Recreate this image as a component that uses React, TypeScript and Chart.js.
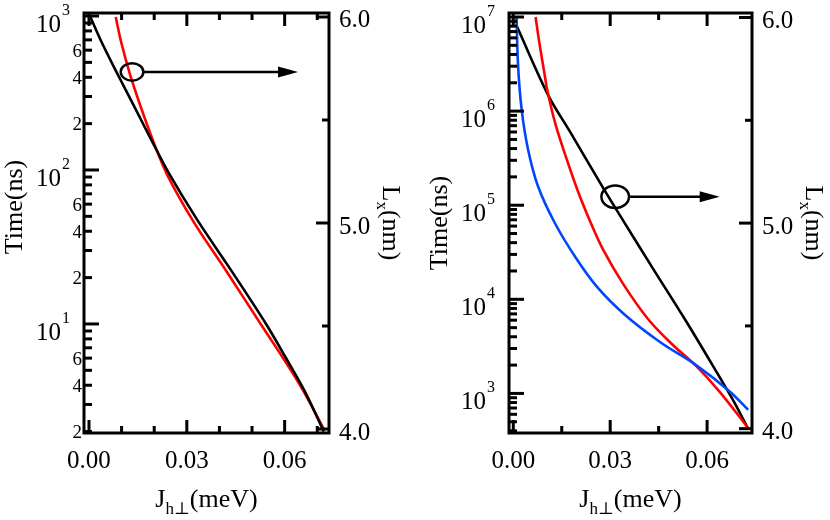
import React, { useEffect, useRef } from 'react';
import { Chart, registerables } from 'chart.js';
Chart.register(...registerables);

const FONT = "'Liberation Serif', 'Times New Roman', 'DejaVu Serif', serif";

// ---------- Left panel data ----------
const leftBlackX = [0.0003, 0.0037, 0.0089, 0.0141, 0.0193, 0.0248, 0.0334, 0.0439, 0.0543, 0.0604, 0.0663, 0.072];
const leftBlackTime = [1000, 688, 414, 253, 154, 92.9, 46.7, 21.8, 10.0, 6.01, 3.61, 2.0];
const leftRedX = [0.0082, 0.0098, 0.0126, 0.016, 0.0197, 0.024, 0.032, 0.0423, 0.0528, 0.0595, 0.0656, 0.072];
const leftRedLx = [6.0, 5.882, 5.72, 5.558, 5.397, 5.234, 5.008, 4.762, 4.506, 4.345, 4.189, 4.0];

// ---------- Right panel data ----------
const rightBlackX = [0.0009, 0.0107, 0.0175, 0.0278, 0.0345, 0.0432, 0.0536, 0.0639, 0.068, 0.0727];
const rightBlackLx = [5.965, 5.625, 5.446, 5.171, 5.0, 4.78, 4.52, 4.25, 4.14, 4.0];
const rightRedX = [0.0069, 0.008, 0.0097, 0.0107, 0.0131, 0.0164, 0.02, 0.0242, 0.0278, 0.034, 0.0417, 0.049, 0.0565, 0.0639, 0.0727];
const rightRedTime = [1e7, 5.52e6, 2.44e6, 1.56e6, 7.2e5, 3.18e5, 1.41e5, 6.24e4, 3.37e4, 1.46e4, 6.18e3, 3.37e3, 1.97e3, 1.04e3, 429];
const rightBlueX = [0.001, 0.0015, 0.0026, 0.0046, 0.0077, 0.0129, 0.0194, 0.0262, 0.0346, 0.0454, 0.0566, 0.067, 0.0727];
const rightBlueTime = [1e7, 2.96e6, 1.03e6, 3.86e5, 1.57e5, 6.43e4, 2.75e4, 1.32e4, 6.81e3, 3.52e3, 2.0e3, 1.05e3, 671];

// ---------- Ticks ----------
const leftXTicks = [0, 0.01, 0.02, 0.03, 0.04, 0.05, 0.06, 0.07];
const rightXTicks = [0, 0.015, 0.03, 0.045, 0.06];
const xMajorTicks = [0, 0.03, 0.06];
const xTickLabels = ['0.00', '0.03', '0.06'];
const lxTicks = [4.0, 4.5, 5.0, 5.5, 6.0];
const lxMajorTicks = [4.0, 5.0, 6.0];
const lxTickLabels = ['4.0', '5.0', '6.0'];
const leftMinorLabelDigits = [2, 4, 6];

type Series = { x: number[]; y: number[]; color: string; axis: 'y' | 'y2' };
type PanelCfg = {
  xMin: number; xMax: number;
  yMin: number; yMax: number;
  y2Min: number; y2Max: number;
  leftW: number; rightW: number;
  xTicks: number[];
  minorLabels: boolean;
  series: Series[];
  ann: { x: number; t: number; rx: number; ry: number; tipX: number };
  timeCY: number;
};

const leftCfg: PanelCfg = {
  xMin: -0.00153, xMax: 0.0736,
  yMin: 1.958, yMax: 1046,
  y2Min: 3.9806, y2Max: 6.0194,
  leftW: 84, rightW: 86,
  xTicks: leftXTicks,
  minorLabels: true,
  series: [
    { x: leftBlackX, y: leftBlackTime, color: '#000000', axis: 'y' },
    { x: leftRedX, y: leftRedLx, color: '#ff0000', axis: 'y2' },
  ],
  ann: { x: 0.0132, t: 433, rx: 11.3, ry: 8.7, tipX: 0.0641 },
  timeCY: 207,
};

const rightCfg: PanelCfg = {
  xMin: -0.00133, xMax: 0.0739,
  yMin: 379.6, yMax: 1.103e7,
  y2Min: 3.979, y2Max: 6.022,
  leftW: 94, rightW: 78,
  xTicks: rightXTicks,
  minorLabels: false,
  series: [
    { x: rightBlueX, y: rightBlueTime, color: '#0046ff', axis: 'y' },
    { x: rightRedX, y: rightRedTime, color: '#ff0000', axis: 'y' },
    { x: rightBlackX, y: rightBlackLx, color: '#000000', axis: 'y2' },
  ],
  ann: { x: 0.03155, t: 1.23e5, rx: 13.8, ry: 11.3, tipX: 0.0639 },
  timeCY: 223,
};

type Seg = { t: string; size: number; dy: number };

function richWidth(ctx: CanvasRenderingContext2D, segs: Seg[]) {
  let w = 0;
  for (const s of segs) {
    ctx.font = `${s.size}px ${FONT}`;
    w += ctx.measureText(s.t).width;
  }
  return w;
}
function drawRich(ctx: CanvasRenderingContext2D, segs: Seg[], x: number, y: number) {
  let cx = x;
  ctx.textAlign = 'left';
  ctx.textBaseline = 'alphabetic';
  for (const s of segs) {
    ctx.font = `${s.size}px ${FONT}`;
    ctx.fillText(s.t, cx, y + s.dy);
    cx += ctx.measureText(s.t).width;
  }
}

function makePlugin(cfg: PanelCfg) {
  return {
    id: 'customAxes',
    afterDraw(chart: any) {
      const ctx: CanvasRenderingContext2D = chart.ctx;
      const { left, right, top, bottom } = chart.chartArea;
      const xs = chart.scales.x;
      const ys = chart.scales.y;
      const y2 = chart.scales.y2;
      ctx.save();
      ctx.strokeStyle = '#000';
      ctx.fillStyle = '#000';
      ctx.lineCap = 'butt';

      // annotation: ellipse + arrow
      {
        const cx = xs.getPixelForValue(cfg.ann.x);
        const cy = ys.getPixelForValue(cfg.ann.t);
        const tip = xs.getPixelForValue(cfg.ann.tipX);
        ctx.lineWidth = 2.5;
        ctx.beginPath();
        ctx.ellipse(cx, cy, cfg.ann.rx, cfg.ann.ry, 0, 0, Math.PI * 2);
        ctx.stroke();
        ctx.beginPath();
        ctx.moveTo(cx + cfg.ann.rx, cy);
        ctx.lineTo(tip - 18, cy);
        ctx.stroke();
        ctx.beginPath();
        ctx.moveTo(tip, cy);
        ctx.lineTo(tip - 20, cy - 5.5);
        ctx.lineTo(tip - 20, cy + 5.5);
        ctx.closePath();
        ctx.fill();
      }

      // frame
      ctx.lineWidth = 3;
      ctx.strokeRect(left, top, right - left, bottom - top);

      // x ticks (bottom and top)
      for (const v of cfg.xTicks) {
        const px = xs.getPixelForValue(v);
        const major = xMajorTicks.some((m) => Math.abs(m - v) < 1e-9);
        const len = major ? 13 : 7;
        ctx.beginPath();
        ctx.moveTo(px, bottom);
        ctx.lineTo(px, bottom - len);
        ctx.moveTo(px, top);
        ctx.lineTo(px, top + len);
        ctx.stroke();
      }
      // x labels
      ctx.font = `25px ${FONT}`;
      ctx.textAlign = 'center';
      ctx.textBaseline = 'alphabetic';
      xMajorTicks.forEach((v, i) => {
        ctx.fillText(xTickLabels[i], xs.getPixelForValue(v), bottom + 35);
      });

      // log ticks on left axis
      const e0 = Math.floor(Math.log10(cfg.yMin));
      const e1 = Math.ceil(Math.log10(cfg.yMax));
      for (let e = e0; e <= e1; e++) {
        for (let k = 1; k <= 9; k++) {
          const v = k * Math.pow(10, e);
          if (v < cfg.yMin || v > cfg.yMax) continue;
          const py = ys.getPixelForValue(v);
          ctx.lineWidth = 3;
          ctx.beginPath();
          ctx.moveTo(left, py);
          ctx.lineTo(left + (k === 1 ? 15 : 8), py);
          ctx.stroke();
          if (k === 1) {
            ctx.textAlign = 'right';
            ctx.font = `16px ${FONT}`;
            const sup = String(e);
            const sw = ctx.measureText(sup).width;
            ctx.fillText(sup, left - 14, py - 1);
            ctx.font = `25px ${FONT}`;
            ctx.fillText('10', left - 14 - sw - 1, py + 16);
          } else if (cfg.minorLabels && leftMinorLabelDigits.includes(k)) {
            ctx.textAlign = 'right';
            ctx.font = `19px ${FONT}`;
            ctx.fillText(String(k), left - 2, py + 6.5);
          }
        }
      }

      // right linear axis ticks
      for (const v of lxTicks) {
        const py = y2.getPixelForValue(v);
        const major = lxMajorTicks.includes(v);
        ctx.lineWidth = 3;
        ctx.beginPath();
        ctx.moveTo(right, py);
        ctx.lineTo(right - (major ? 13 : 7), py);
        ctx.stroke();
      }
      ctx.font = `25px ${FONT}`;
      ctx.textAlign = 'left';
      lxMajorTicks.forEach((v, i) => {
        ctx.fillText(lxTickLabels[i], right + 10, y2.getPixelForValue(v) + 10.5);
      });

      // x title
      {
        const segs: Seg[] = [
          { t: 'J', size: 26, dy: 0 },
          { t: 'h\u22A5', size: 17, dy: 7 },
          { t: '(meV)', size: 26, dy: 0 },
        ];
        const w = richWidth(ctx, segs);
        drawRich(ctx, segs, (left + right) / 2 - w / 2, 507);
      }
      // left title (Time(ns))
      {
        ctx.save();
        ctx.translate(left - 62, cfg.timeCY);
        ctx.rotate(-Math.PI / 2);
        ctx.font = `26px ${FONT}`;
        ctx.textAlign = 'center';
        ctx.textBaseline = 'alphabetic';
        ctx.fillText('Time(ns)', 0, 0);
        ctx.restore();
      }
      // right title (Lx(nm))
      {
        const segs: Seg[] = [
          { t: 'L', size: 26, dy: 0 },
          { t: 'x', size: 17, dy: 6 },
          { t: '(nm)', size: 26, dy: 0 },
        ];
        ctx.save();
        ctx.translate(right + 54, (top + bottom) / 2);
        ctx.rotate(Math.PI / 2);
        const w = richWidth(ctx, segs);
        drawRich(ctx, segs, -w / 2, 0);
        ctx.restore();
      }
      ctx.restore();
    },
  };
}

function Panel({ cfg, offset }: { cfg: PanelCfg; offset: number }) {
  const ref = useRef<HTMLCanvasElement | null>(null);
  useEffect(() => {
    if (!ref.current) return;
    const datasets = cfg.series.map((s) => ({
      data: s.x.map((x, i) => ({ x, y: s.y[i] })),
      borderColor: s.color,
      backgroundColor: s.color,
      borderWidth: 2.6,
      pointRadius: 0,
      showLine: true,
      fill: false,
      tension: 0.35,
      xAxisID: 'x',
      yAxisID: s.axis,
    }));
    const chart = new Chart(ref.current, {
      type: 'scatter',
      data: { datasets },
      options: {
        animation: false,
        responsive: false,
        devicePixelRatio: 1,
        layout: { padding: { top: 13, left: 0, right: 0, bottom: 0 } },
        plugins: { legend: { display: false }, tooltip: { enabled: false } },
        events: [],
        scales: {
          x: {
            type: 'linear', position: 'bottom', min: cfg.xMin, max: cfg.xMax,
            ticks: { display: false }, grid: { display: false }, border: { display: false },
            afterFit: (s: any) => { s.height = 87; },
          },
          y: {
            type: 'logarithmic', position: 'left', min: cfg.yMin, max: cfg.yMax,
            ticks: { display: false }, grid: { display: false }, border: { display: false },
            afterFit: (s: any) => { s.width = cfg.leftW; },
          },
          y2: {
            type: 'linear', position: 'right', min: cfg.y2Min, max: cfg.y2Max,
            ticks: { display: false }, grid: { display: false }, border: { display: false },
            afterFit: (s: any) => { s.width = cfg.rightW; },
          },
        },
      } as any,
      plugins: [makePlugin(cfg)],
    });
    return () => chart.destroy();
  }, [cfg]);
  return (
    <canvas
      ref={ref}
      width={415}
      height={520}
      style={{ position: 'absolute', left: offset, top: 0, width: 415, height: 520 }}
    />
  );
}

export default function App() {
  return (
    <div style={{ position: 'fixed', left: 0, top: 0, width: 830, height: 520, background: '#fff' }}>
      <Panel cfg={leftCfg} offset={0} />
      <Panel cfg={rightCfg} offset={415} />
    </div>
  );
}
